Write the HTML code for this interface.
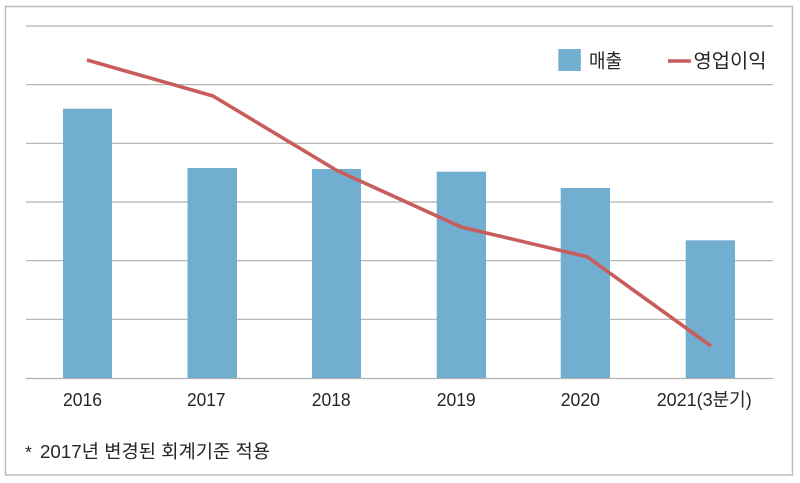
<!DOCTYPE html>
<html><head><meta charset="utf-8">
<style>
html,body{margin:0;padding:0;background:#fff;}
svg{display:block;}
text{font-family:"Liberation Sans","Noto Sans CJK KR",sans-serif;fill:#262626;}
</style></head>
<body>
<svg width="800" height="483" viewBox="0 0 800 483" xmlns="http://www.w3.org/2000/svg">
<rect x="0" y="0" width="800" height="483" fill="#fff"/>
<rect x="5.5" y="6.5" width="787" height="468.5" fill="none" stroke="#bdbdbd" stroke-width="1.5"/>
<g stroke="#b0b0b0" stroke-width="1.2">
<line x1="26" y1="26" x2="773" y2="26"/>
<line x1="26" y1="84.7" x2="773" y2="84.7"/>
<line x1="26" y1="143.3" x2="773" y2="143.3"/>
<line x1="26" y1="202" x2="773" y2="202"/>
<line x1="26" y1="260.7" x2="773" y2="260.7"/>
<line x1="26" y1="319.3" x2="773" y2="319.3"/>
<line x1="26" y1="378.5" x2="773" y2="378.5"/>
</g>
<g fill="#71aecf">
<rect x="63" y="108.7" width="49" height="269.3"/>
<rect x="187.5" y="168" width="49.5" height="210"/>
<rect x="312" y="169" width="49" height="209"/>
<rect x="436.7" y="171.7" width="49.3" height="206.3"/>
<rect x="560.7" y="188" width="49.3" height="190"/>
<rect x="685.7" y="240.3" width="49.3" height="137.7"/>
</g>
<polyline points="87,60 213,96 336,170 461,227 587,256.7 711,346" fill="none" stroke="#c95c5c" stroke-width="3.6" stroke-linejoin="round"/>
<rect x="558.3" y="49" width="22.5" height="22" fill="#71aecf"/>
<text x="589" y="67.5" font-size="19.5" textLength="33" lengthAdjust="spacingAndGlyphs">매출</text>
<line x1="668" y1="61" x2="691" y2="61" stroke="#c95c5c" stroke-width="3.6"/>
<text x="693.5" y="67.5" font-size="19.5" textLength="73" lengthAdjust="spacingAndGlyphs">영업이익</text>
<g font-size="18.5">
<text x="63" y="406" textLength="39" lengthAdjust="spacingAndGlyphs">2016</text>
<text x="187" y="406" textLength="38.5" lengthAdjust="spacingAndGlyphs">2017</text>
<text x="311.7" y="406" textLength="39" lengthAdjust="spacingAndGlyphs">2018</text>
<text x="436.7" y="406" textLength="39" lengthAdjust="spacingAndGlyphs">2019</text>
<text x="560.7" y="406" textLength="39.3" lengthAdjust="spacingAndGlyphs">2020</text>
<text x="656.7" y="406" textLength="95" lengthAdjust="spacingAndGlyphs">2021(3분기)</text>
</g>
<text x="25" y="458" font-size="17.5">*</text>
<text x="40" y="458" font-size="18.5" textLength="230" lengthAdjust="spacingAndGlyphs">2017년 변경된 회계기준 적용</text>
</svg>
</body></html>
